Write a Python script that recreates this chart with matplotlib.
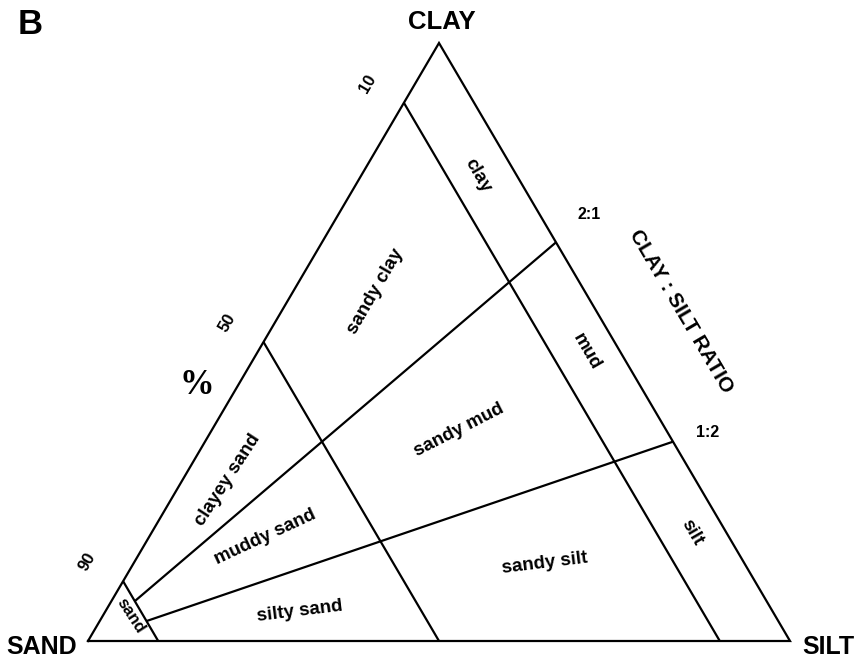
import matplotlib
matplotlib.use("Agg")
import matplotlib.pyplot as plt
import numpy as np

plt.rcParams['font.family'] = ['Liberation Sans', 'DejaVu Sans']

# ---- data (percent) ----
vertex_names = ["SAND", "SILT", "CLAY"]
sand_limits = [90, 50, 10]            # sand % boundaries (also edge tick labels)
sand_tick_labels = ["90", "50", "10"]
ratio_values = [2.0, 0.5]             # clay : silt ratios
ratio_labels = ["2:1", "1:2"]

class_names = ["clay", "sandy clay", "sandy mud", "clayey sand", "muddy sand",
               "silty sand", "sandy silt", "silt", "mud", "sand"]
# label positions as (sand, silt, clay) %
class_sand = [5.5, 29.8, 29.5, 66.6, 66.1, 67.4, 28.5, 4.9, 4.9, 91.8]
class_silt = [16.6, 11.8, 35.2, 6.5, 16.5, 27.6, 58.5, 77.0, 46.8, 4.0]
class_clay = [77.9, 58.4, 35.3, 26.9, 17.4, 5.0, 13.0, 18.1, 48.3, 4.2]
class_rot = [-60, 60, 27, 57, 25, 7, 7, -60, -60, -57]

W, H = 857, 662
fig = plt.figure(figsize=(W / 100, H / 100), dpi=100)
x0, x1, ytop, ybot = 88, 790, 43, 641
ax = fig.add_axes([x0 / W, (H - ybot) / H, (x1 - x0) / W, (ybot - ytop) / H])
ax.set_xlim(0, 1)
ax.set_ylim(0, 1)
ax.axis('off')


def tern(sand, silt, clay):
    t = sand + silt + clay
    s = silt / t
    c = clay / t
    return s + c / 2.0, c


lw = 1.6
kw = dict(color='black', lw=lw, clip_on=False, solid_capstyle='butt')

# outline
pts = [tern(100, 0, 0), tern(0, 100, 0), tern(0, 0, 100), tern(100, 0, 0)]
ax.plot([p[0] for p in pts], [p[1] for p in pts], color='black', lw=lw,
        clip_on=False, solid_joinstyle='miter')

# sand boundary lines
for s in sand_limits:
    a = tern(s, 0, 100 - s)
    b = tern(s, 100 - s, 0)
    ax.plot([a[0], b[0]], [a[1], b[1]], **kw)

# clay:silt ratio lines
for r, lab in zip(ratio_values, ratio_labels):
    mud_a = 100 - sand_limits[0]
    a = tern(sand_limits[0], mud_a / (1 + r), mud_a * r / (1 + r))
    b = tern(0, 100 / (1 + r), 100 * r / (1 + r))
    ax.plot([a[0], b[0]], [a[1], b[1]], **kw)
    off = (33, 28) if r > 1 else (35, 9)
    ax.annotate(lab, xy=b, xytext=off, textcoords='offset pixels',
                ha='center', va='center', fontsize=11.5, fontweight='bold')

# ticks on sand-clay edge (sand %)
for s, lab in zip(sand_limits, sand_tick_labels):
    p = tern(s, 0, 100 - s)
    ax.annotate(lab, xy=p, xytext=(-36, 19), textcoords='offset pixels',
                ha='center', va='center', fontsize=12, fontweight='bold',
                rotation=59.5, rotation_mode='anchor')

# class labels
for name, sa, si, cl, rot in zip(class_names, class_sand, class_silt, class_clay, class_rot):
    x, y = tern(sa, si, cl)
    ax.text(x, y, name, ha='center', va='center', rotation=rot,
            rotation_mode='anchor', fontsize=13.5 if name != 'sand' else 12,
            fontweight='bold')

# vertex labels
fig.text(42 / W, 1 - 647 / H, "SAND", ha='center', va='center', fontsize=18, fontweight='bold')
fig.text(828 / W, 1 - 647 / H, "SILT", ha='center', va='center', fontsize=18, fontweight='bold')
fig.text(442 / W, 1 - 22 / H, "CLAY", ha='center', va='center', fontsize=18.5, fontweight='bold')
fig.text(30 / W, 1 - 25 / H, "B", ha='center', va='center', fontsize=25, fontweight='bold')
fig.text(197 / W, 1 - 386 / H, "%", ha='center', va='center', fontsize=25,
         fontweight='bold', family=['Liberation Serif', 'DejaVu Serif'])
fig.text(681 / W, 1 - 311 / H, "CLAY : SILT RATIO", ha='center', va='center',
         fontsize=15, fontweight='bold', rotation=-59.5, rotation_mode='anchor')

fig.savefig("out.png", dpi=100, facecolor='white')
